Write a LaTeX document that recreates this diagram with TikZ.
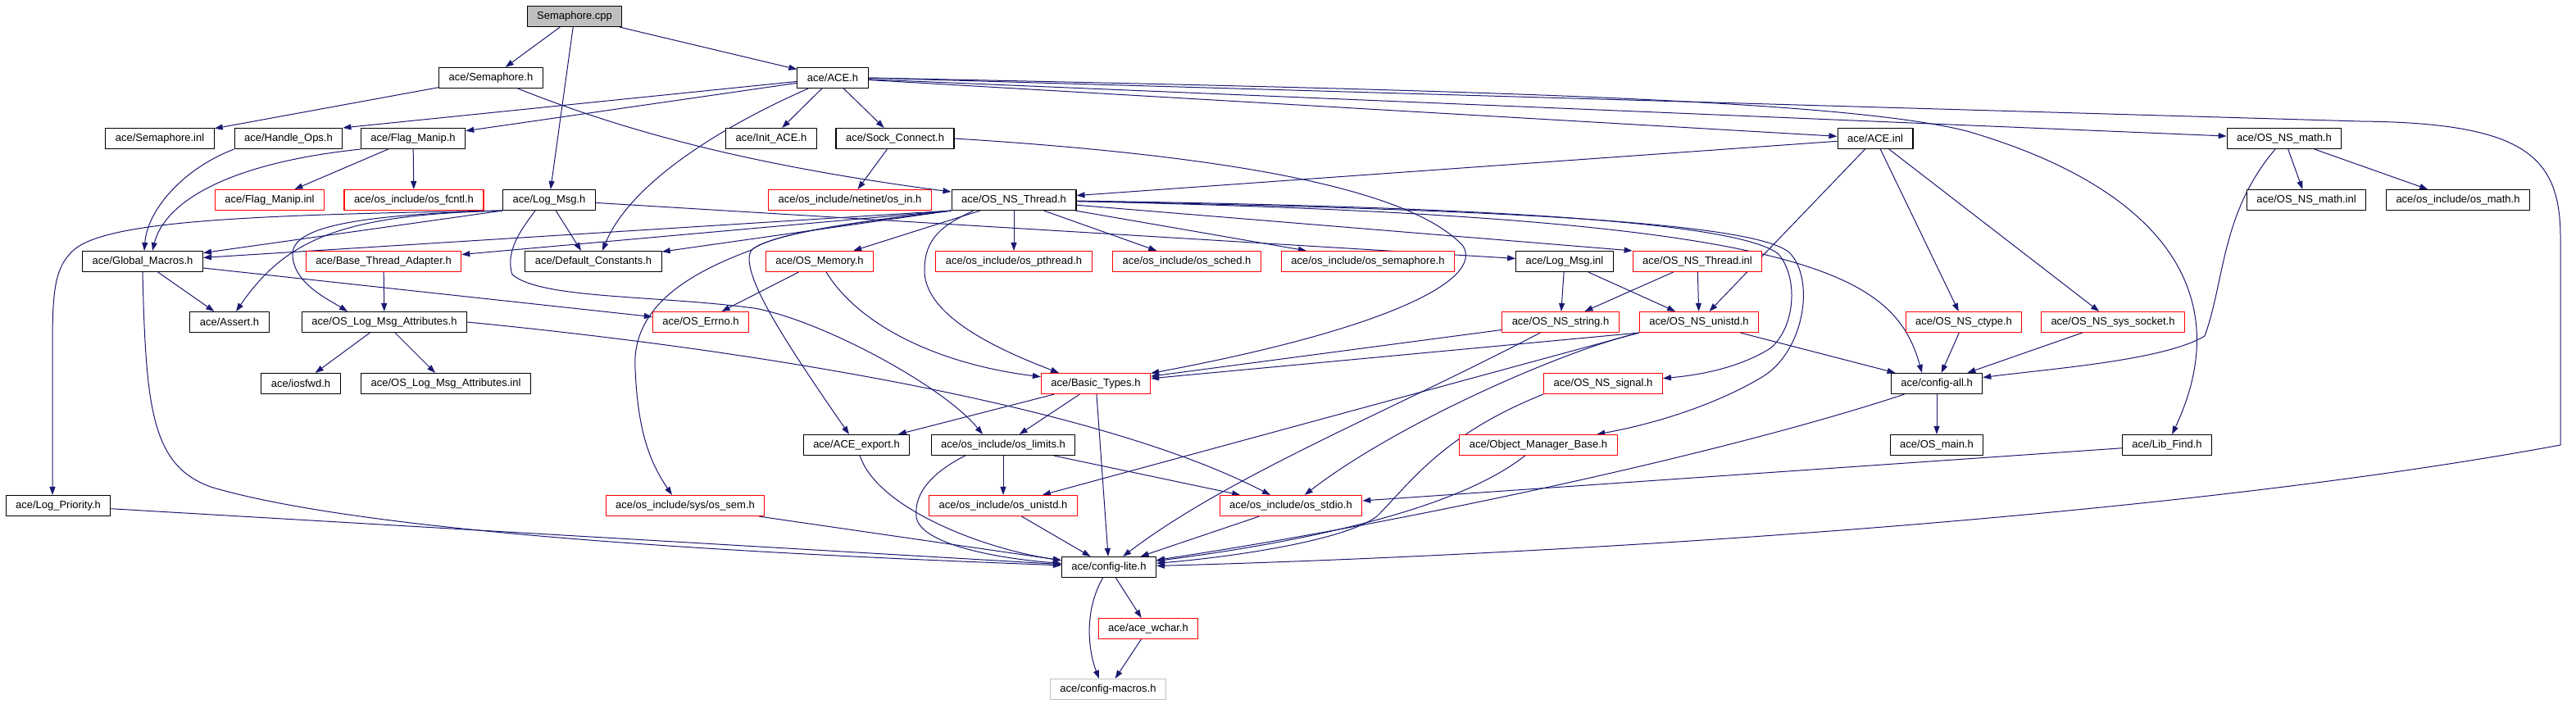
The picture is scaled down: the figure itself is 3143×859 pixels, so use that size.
\documentclass[tikz,border=0pt]{standalone}
\usepackage{fontspec}
\setmainfont{Liberation Sans}
\usetikzlibrary{arrows.meta,backgrounds}
\definecolor{edgeblue}{HTML}{191970}
\definecolor{rootgray}{HTML}{BFBFBF}
\newcommand{\doxfont}{\fontsize{13}{15}\selectfont}

\begin{document}
\begin{tikzpicture}[x=1pt, y=-1pt,
            >={Triangle[length=10pt,width=7pt]},  % pointes de fleche
            line cap=round, line join=round,
            filebox/.style={draw=black, fill=white, line width=1.1pt, minimum height=25pt,
                            inner xsep=12pt, inner ysep=0pt, font=\doxfont},
            redfile/.style={filebox, draw=red},
            rootfile/.style={filebox, fill=rootgray},
            grayfile/.style={filebox, draw=rootgray},
            incl/.style={->, draw=edgeblue, line width=1pt}
        ]
        \useasboundingbox (0,0) rectangle (3143,859);

        % (1) Fichier source et premiers en-tetes
        \node[rootfile] (cpp) at (701,20) {Semaphore.cpp};
        \node[filebox] (semh) at (599,95) {ace/Semaphore.h};
        \node[filebox] (aceh) at (1016,95) {ace/ACE.h};

        % (2) Troisieme rang
        \node[filebox] (seminl) at (195,169) {ace/Semaphore.inl};
        \node[filebox] (handle) at (352,169) {ace/Handle\_Ops.h};
        \node[filebox] (flag) at (504,169) {ace/Flag\_Manip.h};
        \node[filebox] (init) at (941,169) {ace/Init\_ACE.h};
        \node[filebox] (sock) at (1092,169) {ace/Sock\_Connect.h};
        \node[filebox] (aceinl) at (2288,169) {ace/ACE.inl};
        \node[filebox] (math) at (2787,169) {ace/OS\_NS\_math.h};

        % (3) Quatrieme rang
        \node[redfile] (flaginl) at (329,244) {ace/Flag\_Manip.inl};
        \node[redfile] (fcntl) at (505,244) {ace/os\_include/os\_fcntl.h};
        \node[filebox] (logmsg) at (670,244) {ace/Log\_Msg.h};
        \node[redfile] (osin) at (1037,244) {ace/os\_include/netinet/os\_in.h};
        \node[filebox] (thread) at (1237,244) {ace/OS\_NS\_Thread.h};
        \node[filebox] (mathinl) at (2814,244) {ace/OS\_NS\_math.inl};
        \node[filebox] (osmath) at (2999,244) {ace/os\_include/os\_math.h};

        % (4) Cinquieme rang
        \node[filebox] (macros) at (174,319) {ace/Global\_Macros.h};
        \node[redfile] (adapter) at (468,319) {ace/Base\_Thread\_Adapter.h};
        \node[filebox] (defconst) at (724,319) {ace/Default\_Constants.h};
        \node[redfile] (memory) at (1000,319) {ace/OS\_Memory.h};
        \node[redfile] (pthread) at (1237,319) {ace/os\_include/os\_pthread.h};
        \node[redfile] (sched) at (1448,319) {ace/os\_include/os\_sched.h};
        \node[redfile] (semaph) at (1669,319) {ace/os\_include/os\_semaphore.h};
        \node[filebox] (logmsginl) at (1909,319) {ace/Log\_Msg.inl};
        \node[redfile] (threadinl) at (2071,319) {ace/OS\_NS\_Thread.inl};

        % (5) Sixieme rang
        \node[filebox] (assert) at (280,393) {ace/Assert.h};
        \node[filebox] (attr) at (469,393) {ace/OS\_Log\_Msg\_Attributes.h};
        \node[redfile] (errno) at (855,393) {ace/OS\_Errno.h};
        \node[redfile] (string) at (1904,393) {ace/OS\_NS\_string.h};
        \node[redfile] (unistd) at (2073,393) {ace/OS\_NS\_unistd.h};
        \node[redfile] (ctype) at (2396,393) {ace/OS\_NS\_ctype.h};
        \node[redfile] (socket) at (2578,393) {ace/OS\_NS\_sys\_socket.h};

        % (6) Septieme et huitieme rangs
        \node[filebox] (iosfwd) at (367,468) {ace/iosfwd.h};
        \node[filebox] (attrinl) at (544,468) {ace/OS\_Log\_Msg\_Attributes.inl};
        \node[redfile] (types) at (1337,468) {ace/Basic\_Types.h};
        \node[redfile] (signal) at (1956,468) {ace/OS\_NS\_signal.h};
        \node[filebox] (cfgall) at (2363,468) {ace/config-all.h};
        \node[filebox] (export) at (1045,543) {ace/ACE\_export.h};
        \node[filebox] (limits) at (1224,543) {ace/os\_include/os\_limits.h};
        \node[redfile] (objmgr) at (1877,543) {ace/Object\_Manager\_Base.h};
        \node[filebox] (osmain) at (2363,543) {ace/OS\_main.h};
        \node[filebox] (libfind) at (2644,543) {ace/Lib\_Find.h};

        % (7) Bas du graphe
        \node[filebox] (prio) at (71,617) {ace/Log\_Priority.h};
        \node[redfile] (sem) at (836,617) {ace/os\_include/sys/os\_sem.h};
        \node[redfile] (osunistd) at (1224,617) {ace/os\_include/os\_unistd.h};
        \node[redfile] (stdio) at (1575,617) {ace/os\_include/os\_stdio.h};
        \node[filebox] (lite) at (1353,692) {ace/config-lite.h};
        \node[redfile] (wchar) at (1401,767) {ace/ace\_wchar.h};
        \node[grayfile] (cfgmacros) at (1352,841) {ace/config-macros.h};

        \begin{scope}[on background layer]
        % Semaphore.cpp et Semaphore.h
        \draw[incl] (cpp) -- (semh);
        \draw[incl] (cpp) -- (aceh);
        \draw[incl] (cpp) -- (logmsg);
        \draw[incl] (semh) -- (seminl);
        \draw[incl] (semh) .. controls (750,155) and (900,200) .. (thread);

        % ACE.h
        \draw[incl] (aceh) -- (handle.north east);
        \draw[incl] (aceh) -- (flag);
        \draw[incl] (aceh) .. controls (890,150) and (770,220) .. ([xshift=11pt]defconst.north);
        \draw[incl] (aceh) -- (init);
        \draw[incl] (aceh) -- (sock);
        \draw[incl] (aceh) -- (aceinl);
        \draw[incl] (aceh) -- (math);
        \draw[incl] (aceh.east) .. controls (1800,110) and (2250,122) .. (2400,160)
            .. controls (2640,230) and (2730,360) .. (libfind);
        \draw[incl] (aceh.east) -- (2880,148) .. controls (3080,150) and (3124,190) .. (3124,290)
            -- (3124,543) .. controls (2600,640) and (1800,680) .. (lite);

        % Flag_Manip.h, Handle_Ops.h, Sock_Connect.h
        \draw[incl] (flag) -- (flaginl);
        \draw[incl] (flag) -- (fcntl);
        \draw[incl] (flag.south west) .. controls (270,200) and (200,250) .. ([xshift=12pt]macros.north);
        \draw[incl] (handle.south west) .. controls (225,205) and (180,255) .. ([xshift=2pt]macros.north);
        \draw[incl] (sock) -- (osin);
        \draw[incl] (sock.east) .. controls (1500,190) and (1720,230) .. (1785,300)
            .. controls (1810,340) and (1700,400) .. (types);

        % ACE.inl, OS_NS_math.h
        \draw[incl] (aceinl) -- (thread);
        \draw[incl] (aceinl) -- (unistd);
        \draw[incl] (aceinl) -- (ctype);
        \draw[incl] (aceinl) -- (socket);
        \draw[incl] (math) -- (mathinl);
        \draw[incl] (math) -- (osmath);
        \draw[incl] (math) .. controls (2710,260) and (2715,340) .. (2690,410)
            .. controls (2640,440) and (2500,450) .. (cfgall);

        % Log_Msg.h
        \draw[incl] (logmsg.south west) -- (macros);
        \draw[incl] (logmsg) -- ([xshift=-15pt]defconst.north);
        \draw[incl] (logmsg.south west) .. controls (300,262) and (130,270) .. (90,305)
            .. controls (68,325) and (64,350) .. (64,420) -- ([xshift=-7pt]prio.north);
        \draw[incl] (logmsg.south west) .. controls (420,262) and (357,280) .. (357,310)
            .. controls (357,345) and (400,365) .. ([xshift=-45pt]attr.north);
        \draw[incl] (logmsg.south west) .. controls (420,262) and (350,290) .. ([xshift=8pt]assert.north);
        \draw[incl] (logmsg) -- (logmsginl);
        \draw[incl] ([xshift=-17pt]logmsg.south) .. controls (640,275) and (615,305) .. (625,335)
            .. controls (660,365) and (800,360) .. (920,376)
            .. controls (1000,390) and (1150,470) .. ([xshift=-25pt]limits.north);

        % OS_NS_Thread.h
        \draw[incl] (thread.south west) -- (macros);
        \draw[incl] (thread.south west) -- (adapter);
        \draw[incl] (thread.south west) -- (defconst);
        \draw[incl] (thread) -- (memory);
        \draw[incl] (thread) -- (pthread);
        \draw[incl] (thread) -- (sched);
        \draw[incl] (thread) -- (semaph);
        \draw[incl] (thread) -- (threadinl.north west);
        \draw[incl] (thread.south west) .. controls (1050,270) and (940,285) .. (917,305)
            .. controls (900,330) and (960,420) .. (export);
        \draw[incl] (thread.south west) .. controls (1050,270) and (940,285) .. (917,305)
            .. controls (850,330) and (770,370) .. (775,450)
            .. controls (778,520) and (790,560) .. ([xshift=-16pt]sem.north);
        \draw[incl] ([xshift=27pt]thread.south west) .. controls (1150,275) and (1128,290) .. (1128,330)
            .. controls (1128,380) and (1200,420) .. ([xshift=-45pt]types.north);
        \draw[incl] (thread) .. controls (2200,265) and (2310,330) .. ([xshift=-18pt]cfgall.north);
        \draw[incl] (thread) .. controls (1800,252) and (2120,270) .. (2170,310)
            .. controls (2195,340) and (2190,400) .. (2160,425)
            .. controls (2120,450) and (2070,458) .. (signal);
        \draw[incl] (thread) .. controls (1800,255) and (2150,270) .. (2185,310)
            .. controls (2215,345) and (2200,430) .. (2150,460)
            .. controls (2100,490) and (2030,515) .. (objmgr);

        % Global_Macros.h, Base_Thread_Adapter.h, OS_Log_Msg_Attributes.h, OS_Memory.h
        \draw[incl] (macros) -- (assert);
        \draw[incl] (macros) -- (errno);
        \draw[incl] (macros.south) .. controls (178,500) and (185,570) .. (260,595)
            .. controls (450,650) and (900,675) .. (lite);
        \draw[incl] (adapter) -- (attr);
        \draw[incl] (attr) -- (iosfwd);
        \draw[incl] (attr) -- (attrinl);
        \draw[incl] (attr.east) .. controls (950,430) and (1350,500) .. (stdio);
        \draw[incl] (memory) -- (errno);
        \draw[incl] (memory) .. controls (1050,400) and (1150,445) .. (types);

        % Log_Msg.inl, OS_NS_Thread.inl, OS_NS_string.h, OS_NS_unistd.h
        \draw[incl] (logmsginl) -- (string);
        \draw[incl] (logmsginl) -- (unistd);
        \draw[incl] (threadinl) -- (string);
        \draw[incl] (threadinl) -- (unistd);
        \draw[incl] (string) -- (types);
        \draw[incl] (string) .. controls (1700,500) and (1500,580) .. (lite);
        \draw[incl] (unistd.south west) -- (types);
        \draw[incl] (unistd) -- (cfgall);
        \draw[incl] (unistd.south west) -- (osunistd);
        \draw[incl] (unistd.south west) .. controls (1900,430) and (1700,520) .. (stdio);

        % Basic_Types.h, ACE_export.h, os_limits.h
        \draw[incl] (types) -- (export);
        \draw[incl] (types) -- (limits);
        \draw[incl] (types) -- (lite);
        \draw[incl] (export) .. controls (1070,620) and (1200,670) .. (lite);
        \draw[incl] (limits) -- (osunistd);
        \draw[incl] (limits) -- (stdio);
        \draw[incl] ([xshift=42pt]limits.south west) .. controls (1140,575) and (1115,600) .. (1118,630)
            .. controls (1120,660) and (1200,680) .. (lite);

        % Partie droite
        \draw[incl] (ctype) -- (cfgall);
        \draw[incl] (socket) -- (cfgall);
        \draw[incl] (cfgall) -- (osmain);
        \draw[incl] (cfgall) .. controls (2100,555) and (1700,640) .. (lite);
        \draw[incl] (signal.south west) .. controls (1760,530) and (1720,590) .. (1680,630)
            .. controls (1640,660) and (1500,680) .. (lite);
        \draw[incl] (objmgr) .. controls (1780,620) and (1600,660) .. (lite);
        \draw[incl] (libfind) -- (stdio);

        % Vers config-lite.h et config-macros.h
        \draw[incl] (prio) -- (lite);
        \draw[incl] (sem) -- (lite);
        \draw[incl] (osunistd) -- (lite);
        \draw[incl] (stdio) -- (lite);
        \draw[incl] (lite) -- (wchar);
        \draw[incl] (lite) .. controls (1320,750) and (1330,800) .. ([xshift=-11pt]cfgmacros.north);
        \draw[incl] (wchar) -- (cfgmacros);
        \end{scope}
\end{tikzpicture}
\end{document}
